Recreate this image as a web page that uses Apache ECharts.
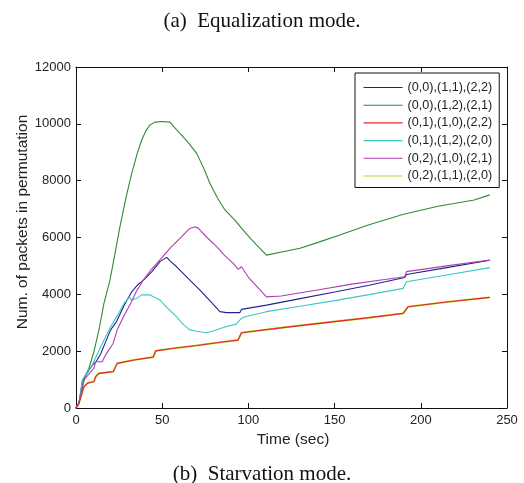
<!DOCTYPE html>
<html>
<head>
<meta charset="utf-8">
<script src="https://cdn.jsdelivr.net/npm/echarts@6/dist/echarts.min.js"></script>
<style>html,body{margin:0;padding:0;background:#fff;}#c{width:524px;height:483px;}</style>
</head>
<body>
<div id="c"></div>
<script>
// ---- data (time sec, packets) ----
var seriesNames = ['(0,0),(1,1),(2,2)','(0,0),(1,2),(2,1)','(0,1),(1,0),(2,2)','(0,1),(1,2),(2,0)','(0,2),(1,0),(2,1)','(0,2),(1,1),(2,0)'];
var xTicks = [0,50,100,150,200,250];
var yTicks = [0,2000,4000,6000,8000,10000,12000];

var s00_11_22 = [[0,0],[1.7,165],[3.7,950],[6.6,1250],[9.4,1500],[11.5,1620],[14.3,1900],[17,2300],[20.1,2750],[23.6,3050],[27.8,3600],[32.3,4090],[36,4350],[39.2,4500],[44,4800],[48.7,5150],[52.6,5300],[55,5150],[58.4,4970],[65,4560],[71.9,4150],[78,3750],[83.5,3390],[87.3,3355],[95,3355],[96,3470],[110.5,3620],[130,3850],[150,4080],[170,4320],[190.7,4590],[191.7,4700],[215,4940],[240,5200]];
var s00_12_21 = [[0,0],[1.7,165],[3.7,750],[5.6,1160],[7.5,1400],[10.4,1980],[13.3,2745],[16.2,3680],[19.7,4500],[22.5,5400],[25.5,6380],[29,7400],[32.3,8260],[35.5,8950],[38.1,9430],[40.5,9750],[42.9,9960],[45.8,10060],[50,10080],[54.5,10060],[57.5,9850],[60.3,9660],[65,9350],[70,8960],[74,8450],[77.7,7900],[82,7400],[86.4,6970],[92,6620],[97,6260],[101,5980],[104.7,5740],[110.5,5380],[120,5500],[129.9,5620],[140,5820],[153,6090],[170,6450],[190,6820],[210,7100],[231,7320],[240,7500]];
var s01_10_22 = [[0,0],[1.7,165],[3.7,575],[4.6,750],[6.6,870],[10.4,930],[11.4,1100],[13.3,1220],[21.6,1280],[22.5,1340],[23.9,1570],[33.6,1690],[44.8,1790],[46.2,2010],[56.8,2100],[70,2200],[85,2320],[94,2390],[96,2650],[120,2830],[150,3040],[170,3180],[189.8,3330],[192.7,3565],[215,3730],[240,3893]];
var s01_12_20 = [[0,0],[1.7,165],[3.7,985],[6.6,1280],[9.4,1510],[14.3,2150],[20.1,2860],[24,3250],[27.8,3680],[31,3900],[32.3,3800],[35,3850],[38.1,3980],[42.9,3980],[45.8,3890],[48.7,3800],[53,3520],[58.4,3210],[62,2950],[66,2750],[70,2700],[75.7,2650],[80,2720],[85.4,2830],[93.1,2960],[96,3160],[98,3210],[110.5,3390],[130,3580],[150,3780],[170,3990],[189.8,4210],[191.7,4440],[215,4680],[240,4940]];
var s02_10_21 = [[0,0],[1.7,165],[4.6,985],[7.5,1200],[10.4,1400],[11.4,1630],[15.2,1630],[17.2,1870],[21.6,2280],[23.9,2750],[27.8,3250],[31.7,3680],[35,4100],[39,4500],[44,4900],[49.7,5280],[55,5650],[60,5950],[66,6320],[69,6380],[70.9,6330],[76,6000],[81.6,5680],[86,5380],[91.2,5090],[94.1,4880],[96,4970],[100,4600],[105,4270],[110.5,3910],[119,3940],[140,4150],[160,4360],[180,4530],[190.7,4620],[191.7,4800],[215,5000],[240,5210]];
var s02_11_20 = [[0,0],[1.7,165],[3.7,575],[4.6,750],[6.6,870],[10.4,930],[11.4,1100],[13.3,1220],[21.6,1280],[22.5,1340],[23.9,1570],[33.6,1690],[44.8,1790],[46.2,2010],[56.8,2100],[70,2200],[85,2320],[94,2390],[96,2650],[120,2830],[150,3040],[170,3180],[189.8,3330],[192.7,3565],[215,3730],[240,3893]];

var allData = [s00_11_22, s00_12_21, s01_10_22, s01_12_20, s02_10_21, s02_11_20];
var colors = ['#22228e','#2f8a34','#e02828','#3cc6c6','#b23cb2','#cccc3a'];
var zs = [3,3,4,3,3,2];
var widths = [1.1,1.1,1.1,1.1,1.1,2];

var chart = echarts.init(document.getElementById('c'), null, {renderer:'canvas'});
var tickFont = {fontFamily:'Liberation Sans, Arial, sans-serif', fontSize:13, color:'#222'};
var axisCommon = {
  type:'value', splitLine:{show:false},
  axisLine:{show:true, onZero:false, lineStyle:{color:'#111', width:1}},
  axisTick:{show:true, inside:true, length:5, lineStyle:{color:'#111'}}
};
var option = {
  animation:false,
  backgroundColor:'#fff',
  title:[
    {text:'(a)  Equalization mode.', left:'center', top:6, textStyle:{fontFamily:'Liberation Serif, Times New Roman, serif', fontSize:21, fontWeight:'normal', color:'#111'}},
    {text:'(b)  Starvation mode.', left:'center', top:459, textStyle:{fontFamily:'Liberation Serif, Times New Roman, serif', fontSize:21, fontWeight:'normal', color:'#111'}}
  ],
  grid:{left:76, right:17, top:67, bottom:75, containLabel:false},
  legend:{
    orient:'vertical', left:355, top:73,
    data:seriesNames,
    itemWidth:39, itemHeight:12, itemGap:4.7,
    padding:[8,7,5,8],
    itemStyle:{opacity:0},
    lineStyle:{width:1.1},
    borderColor:'#111', borderWidth:1, backgroundColor:'#fff',
    textStyle:{fontFamily:'Liberation Sans, Arial, sans-serif', fontSize:12.6, color:'#222'},
    selectedMode:false, z:10
  },
  xAxis:[
    Object.assign({}, axisCommon, {position:'bottom', min:0, max:250, interval:50,
      axisLabel:Object.assign({margin:6, formatter:function(v){return xTicks.indexOf(v)>=0?String(v):'';}}, tickFont)}),
    Object.assign({}, axisCommon, {position:'top', min:0, max:250, interval:50, axisLabel:{show:false}})
  ],
  yAxis:[
    Object.assign({}, axisCommon, {position:'left', min:0, max:12000, interval:2000,
      axisLabel:Object.assign({margin:5, formatter:function(v){return yTicks.indexOf(v)>=0?String(v):'';}}, tickFont)}),
    Object.assign({}, axisCommon, {position:'right', min:0, max:12000, interval:2000, axisLabel:{show:false}})
  ],
  graphic:[
    {type:'text', x:23, y:222, rotation:Math.PI/2, style:{text:'Num. of packets in permutation', font:'15.5px "Liberation Sans", Arial, sans-serif', fill:'#222', align:'center', verticalAlign:'middle'}},
    {type:'text', x:293, y:440, style:{text:'Time (sec)', font:'15.5px "Liberation Sans", Arial, sans-serif', fill:'#222', align:'center', verticalAlign:'middle'}}
  ],
  series: seriesNames.map(function(n,i){
    return {name:n, type:'line', data:allData[i], xAxisIndex:0, yAxisIndex:0,
      symbol:'none', showSymbol:false, z:zs[i],
      lineStyle:{color:colors[i], width:widths[i]}, itemStyle:{color:colors[i]}};
  })
};
chart.setOption(option);
</script>
</body>
</html>
